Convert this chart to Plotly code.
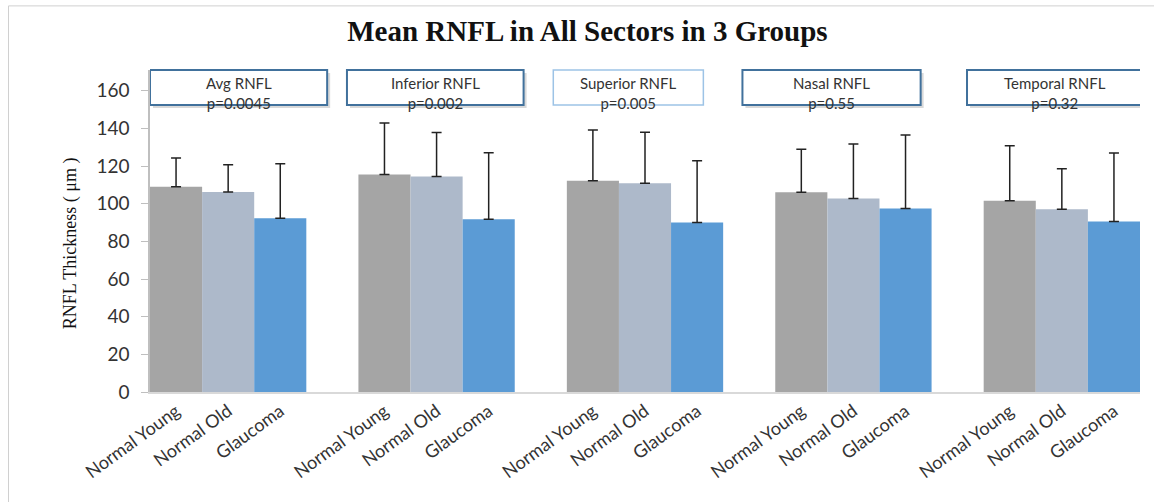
import plotly.graph_objects as go

# RNFL thickness by sector (mean and SD), three study groups
sectors = ["Avg RNFL", "Inferior RNFL", "Superior RNFL", "Nasal RNFL", "Temporal RNFL"]
p_values = ["p=0.0045", "p=0.002", "p=0.005", "p=0.55", "p=0.32"]
groups = ["Normal Young", "Normal Old", "Glaucoma"]

young_mean = [109.0, 115.5, 112.2, 106.1, 101.5]
young_sd = [15.3, 27.3, 27.0, 22.8, 29.3]
old_mean = [106.2, 114.5, 110.9, 102.7, 97.0]
old_sd = [14.5, 23.3, 27.1, 29.0, 21.6]
glaucoma_mean = [92.3, 91.8, 90.0, 97.4, 90.5]
glaucoma_sd = [28.9, 35.3, 32.8, 39.1, 36.4]

colors = ["#a5a5a5", "#adb9ca", "#5b9bd5"]

# each sector occupies 4 slots: three bars plus one empty gap slot
centers = [4 * i for i in range(len(sectors))]
series = [(young_mean, young_sd), (old_mean, old_sd), (glaucoma_mean, glaucoma_sd)]

fig = go.Figure()
tickvals, ticktext = [], []
for k, (means, sds) in enumerate(series):
    xs = [c + (k - 1) for c in centers]
    tickvals += xs
    ticktext += [groups[k]] * len(xs)
    fig.add_trace(go.Bar(
        x=xs, y=means, width=1.0, name=groups[k],
        marker=dict(color=colors[k], line=dict(width=0)),
        error_y=dict(type="data", symmetric=False, array=sds,
                     arrayminus=[0] * len(sds), color="#222222",
                     thickness=1.5, width=5),
        showlegend=False,
    ))

sans = "Lato, Open Sans, sans-serif"
serif = "Liberation Serif, Times New Roman, serif"

fig.update_layout(
    width=1154, height=502,
    margin=dict(l=150, r=14, t=70, b=110),
    paper_bgcolor="white", plot_bgcolor="white",
    barmode="overlay",
    title=dict(text="<b>Mean RNFL in All Sectors in 3 Groups</b>",
               font=dict(family=serif, size=29, color="#111111"),
               x=0.509, xref="container", xanchor="center",
               y=1 - 31 / 502, yref="container", yanchor="middle"),
    xaxis=dict(range=[-1.5, 4 * len(sectors) - 2.5],
               tickmode="array", tickvals=tickvals, ticktext=ticktext,
               tickangle=-36, tickfont=dict(family=sans, size=18, color="#333333"),
               showline=True, linecolor="#d9d9d9", linewidth=1.5,
               showgrid=False, zeroline=False, ticks=""),
    yaxis=dict(range=[0, 171], tickmode="array", tickvals=list(range(0, 161, 20)),
               tickfont=dict(family=sans, size=19, color="#333333"),
               ticks="outside", ticklen=7, tickcolor="#bfbfbf", ticklabelstandoff=8,
               showline=True, linecolor="#bfbfbf", linewidth=1.5,
               showgrid=False, zeroline=False),
)

# outer chart frame
fig.add_shape(type="rect", xref="paper", yref="paper",
              x0=(8.5 - 150) / 990, x1=1.05, y0=-0.4, y1=(391.5 - 6) / 321.5,
              line=dict(color="#d0d0d0", width=1), fillcolor="rgba(0,0,0,0)", layer="below")

# sector label boxes (data x units, paper y)
box_spans = [(-1.5, 1.9), (2.28, 5.67), (6.24, 9.12), (9.87, 13.29), (14.18, 17.56)]
box_lines = ["#41719c", "#41719c", "#9dc3e6", "#41719c", "#41719c"]
box_widths = [2, 2, 1.5, 2, 2]
y_top, y_bot = 1.0, (391.5 - 105) / 321.5
px_x = 1 / 52.1
px_y = 1 / 321.5
for (x0, x1), lc, lw, name, pv in zip(box_spans, box_lines, box_widths, sectors, p_values):
    if lc == "#41719c":
        fig.add_shape(type="rect", xref="x", yref="paper",
                      x0=x0 + 3 * px_x, x1=x1 + 3 * px_x, y0=y_bot - 3 * px_y, y1=y_top - 3 * px_y,
                      line=dict(width=0), fillcolor="rgba(0,0,0,0.15)", layer="above")
    fig.add_shape(type="rect", xref="x", yref="paper", x0=x0, x1=x1, y0=y_bot, y1=y_top,
                  line=dict(color=lc, width=lw), fillcolor="white", layer="above")
    xc = (x0 + x1) / 2
    fig.add_annotation(x=xc, xref="x", y=(391.5 - 93) / 321.5, yref="paper",
                       text=f"{name}<br>{pv}", showarrow=False, yanchor="middle",
                       align="center",
                       font=dict(family=sans, size=15, color="#333333"))

# y-axis title
fig.add_annotation(x=(70 - 150) / 990, xref="paper", y=(391.5 - 243) / 321.5, yref="paper",
                   text="RNFL Thickness ( μm )", textangle=-90, showarrow=False,
                   xanchor="center", yanchor="middle",
                   font=dict(family=serif, size=18, color="#111111"))

fig.write_html("out.html")
